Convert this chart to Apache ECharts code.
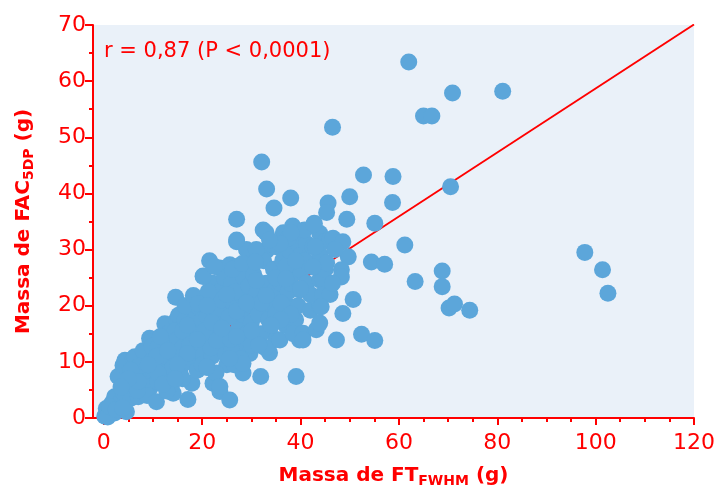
<!DOCTYPE html>
<html><head><meta charset="utf-8">
<script src="https://cdn.jsdelivr.net/npm/echarts@6/dist/echarts.min.js"></script>
<style>html,body{margin:0;padding:0;background:#fff}#chart{width:714px;height:493px}</style>
</head><body><div id="chart"></div>
<script>
// Massa de FT_FWHM (g)  — x values
const ftMass = [
0.2,0.5,1.0,1.5,2.2,1.6,2.2,3.0,4.6,3.5,
4.0,2.9,3.9,4.3,5.0,5.5,0.8,1.2,2.5,3.8,
6.0,6.3,7.0,6.5,7.0,7.5,8.0,8.5,9.0,9.3,
9.6,9.5,10.0,6.0,7.2,8.0,5.5,8.8,10.0,9.8,
6.8,10.7,11.0,11.5,12.0,12.4,12.5,13.0,13.5,14.0,
14.1,14.6,14.8,15.2,11.0,12.0,13.0,14.5,14.0,11.5,
10.8,13.8,12.8,15.0,15.0,15.5,16.0,16.5,17.1,17.5,
17.9,18.5,18.0,18.5,19.0,19.5,19.9,16.0,17.0,17.5,
18.8,16.5,19.0,20.0,16.0,19.5,17.0,20.0,18.2,20.2,
20.9,21.5,22.2,22.2,23.6,23.6,21.0,21.5,22.0,22.5,
23.0,23.5,24.0,24.5,25.0,21.0,22.8,24.5,20.5,21.8,
23.2,24.0,25.0,21.2,22.0,24.8,23.0,25.6,25.6,26.0,
26.5,27.0,27.0,27.5,28.0,28.3,28.5,29.0,29.7,29.7,
26.0,26.5,27.0,28.0,29.0,30.0,25.5,26.8,28.5,29.5,
30.0,25.8,27.8,29.0,26.2,28.2,30.0,31.9,32.4,33.1,
33.7,33.7,30.5,31.0,31.5,32.0,32.5,33.0,34.0,34.5,
35.0,31.0,32.0,33.5,34.5,35.0,30.8,34.0,32.8,35.0,
33.0,31.5,35.8,36.4,37.8,38.5,38.4,39.8,39.8,39.1,
36.0,36.5,37.0,37.5,38.0,39.0,39.5,40.0,36.0,37.0,
38.5,36.5,38.0,39.5,40.0,37.5,40.5,41.2,41.2,42.0,
42.8,43.2,43.2,43.9,43.9,43.9,43.9,44.6,41.0,42.0,
42.5,44.0,45.0,45.0,40.8,44.5,45.3,45.9,46.6,
48.6,49.7,48.3,48.3,47.3,48.6,45.6,45.3,49.4,50.0,
46.5,46.0,47.0,46.5,50.7,52.4,52.8,55.1,54.4,
57.1,55.1,58.8,58.7,61.2,62.0,63.3,65.0,66.7,68.8,
68.8,70.2,71.3,70.5,70.9,74.4,81.1,97.8,101.4,102.5,
32.1,33.1,34.6,38.0,38.1,35.8,33.7,19.2,28.3,23.6,
20.9,25.6,42.5,27.0,20.2,40.5,42.7,44.2,
22.5,25.0,27.0,29.0,31.0,33.0,35.0,37.0,39.0,43.0,
40.0,38.0,36.0,34.0,30.0,27.0,24.0,21.0,19.0,17.0,
15.0,13.0,11.0,9.0,7.0,5.0,3.5,12.0,14.5
];
// Massa de FAC_5DP (g) — y values
const facMass = [
0.3,1.7,0.6,1.2,0.9,2.6,3.8,2.0,1.1,3.0,
4.5,7.4,9.4,10.3,5.5,3.5,0.2,2.0,1.5,1.8,
10.6,10.9,3.8,6.0,8.0,5.0,9.5,7.0,11.5,14.2,
13.6,5.5,8.5,7.5,9.2,12.0,8.5,4.0,10.5,12.8,
4.9,2.9,6.5,9.0,11.5,16.8,13.5,7.5,10.0,12.5,
4.4,21.5,17.5,18.3,12.5,8.0,15.0,15.5,9.0,14.5,
11.0,6.0,4.8,14.0,11.0,8.0,12.5,17.5,3.3,19.8,
6.2,20.1,14.5,10.5,16.0,12.0,21.0,15.5,10.0,13.0,
18.0,20.0,8.5,9.5,7.0,19.5,16.5,17.5,21.8,25.3,
21.0,28.0,24.0,6.2,4.7,26.7,18.0,14.5,11.0,20.0,
16.5,22.5,13.0,18.5,9.5,9.0,8.0,25.0,15.5,12.5,
19.5,21.0,15.0,22.5,17.0,11.5,13.8,3.2,27.3,24.0,
20.0,31.4,35.4,16.5,13.0,8.0,22.0,26.0,28.1,11.5,
12.0,9.5,27.0,18.5,15.0,20.0,18.0,22.5,25.0,23.5,
17.0,14.0,10.5,30.0,26.5,27.5,13.0,7.4,33.5,29.9,
11.6,15.7,25.5,22.0,18.5,15.0,28.0,24.0,20.0,26.5,
30.5,30.0,20.5,17.5,22.5,14.0,27.8,31.0,12.5,18.5,
33.0,13.0,13.9,28.1,19.8,26.9,34.2,22.8,13.9,7.4,
24.0,31.0,16.5,22.5,29.5,17.5,31.0,26.0,20.5,27.0,
15.0,33.0,24.0,20.0,29.0,32.0,15.1,31.1,24.0,19.2,
34.7,27.6,15.7,24.6,19.8,16.9,32.9,24.6,28.0,22.0,
30.5,29.0,26.5,31.5,33.5,22.0,27.6,31.7,32.0,
31.4,28.7,26.4,25.1,13.9,18.6,38.3,36.6,35.4,39.4,
51.8,22.0,30.0,24.0,21.1,14.9,43.3,34.7,27.8,
27.4,13.8,43.0,38.4,30.8,63.4,24.3,53.8,53.8,26.2,
23.4,19.6,20.3,41.2,57.9,19.2,58.2,29.5,26.4,22.2,
45.6,40.8,37.4,39.2,33.0,31.1,31.7,20.4,9.7,5.6,
9.1,10.6,26.9,31.7,25.2,13.9,34.5,19.8,
27.0,22.0,19.0,20.5,24.5,21.8,25.0,24.8,28.0,30.5,
23.0,18.5,17.5,16.5,15.5,14.5,16.0,20.0,14.0,11.5,
9.5,12.0,8.0,9.5,6.5,7.0,5.5,6.0,7.0
];
// regression line endpoints
const fitX = [0, 120];
const fitY = [1.7, 70.1];
// axis ticks
const xLabelValues = [0, 20, 40, 60, 80, 100, 120];
const xMinorValues = [0,5,10,15,20,25,30,35,40,45,50,55,60,65,70,75,80,85,90,95,100,105,110,115,120];
const annotation = 'r = 0,87 (P < 0,0001)';

const RED = '#ff0000';
const points = ftMass.map((x, i) => [x, facMass[i]]);
const fit = fitX.map((x, i) => [x, fitY[i]]);

const chart = echarts.init(document.getElementById('chart'), null, {renderer: 'canvas'});
const nameRich = {
  b: {fontFamily: 'DejaVu Sans', fontWeight: 'bold', fontSize: 20, color: RED, lineHeight: 24},
  s: {fontFamily: 'DejaVu Sans', fontWeight: 'bold', fontSize: 14, color: RED, lineHeight: 14, padding: [10, 0, 0, 0], verticalAlign: 'bottom'}
};
chart.setOption({
  animation: false,
  backgroundColor: '#ffffff',
  title: {
    text: annotation, left: 99, top: 36,
    textStyle: {fontFamily: 'DejaVu Sans', fontSize: 21, fontWeight: 'normal', color: RED}
  },
  grid: {
    left: 93, right: 20, top: 25, bottom: 75,
    show: true, backgroundColor: '#eaf1f9', borderWidth: 0,
    outerBoundsMode: 'none', containLabel: false
  },
  xAxis: [{
    type: 'value', min: -2.2, max: 120,
    position: 'bottom',
    name: '{b|Massa de FT}{s|FWHM}{b| (g)}',
    nameLocation: 'middle', nameGap: 46,
    nameTextStyle: {rich: nameRich},
    axisLine: {show: true, onZero: false, lineStyle: {color: RED, width: 2}},
    axisTick: {show: true, customValues: xLabelValues, length: 7, lineStyle: {color: RED, width: 2}},
    axisLabel: {customValues: xLabelValues, color: RED, fontFamily: 'DejaVu Sans', fontSize: 22, margin: 14},
    splitLine: {show: false}
  }, {
    type: 'value', min: -2.2, max: 120,
    position: 'bottom',
    axisLine: {show: false, onZero: false},
    axisTick: {show: true, customValues: xMinorValues, length: 4, lineStyle: {color: RED, width: 2}},
    axisLabel: {show: false},
    splitLine: {show: false}
  }],
  yAxis: {
    type: 'value', min: 0, max: 70, interval: 10,
    name: '{b|Massa de FAC}{s|5DP}{b| (g)}',
    nameLocation: 'middle', nameGap: 57,
    nameTextStyle: {rich: nameRich},
    axisLine: {show: true, onZero: false, lineStyle: {color: RED, width: 2}},
    axisTick: {show: true, length: 8, lineStyle: {color: RED, width: 2}},
    minorTick: {show: true, splitNumber: 2, length: 4, lineStyle: {color: RED, width: 2}},
    axisLabel: {color: RED, fontFamily: 'DejaVu Sans', fontSize: 22, margin: 7},
    splitLine: {show: false}
  },
  series: [{
    type: 'line', data: fit, xAxisIndex: 0, symbol: 'none', silent: true, z: 1,
    lineStyle: {color: RED, width: 1.8}
  }, {
    type: 'scatter', data: points, xAxisIndex: 0, symbol: 'circle', symbolSize: 17, z: 2,
    itemStyle: {color: '#5ca6da', opacity: 1, borderWidth: 0}
  }]
});
</script></body></html>
